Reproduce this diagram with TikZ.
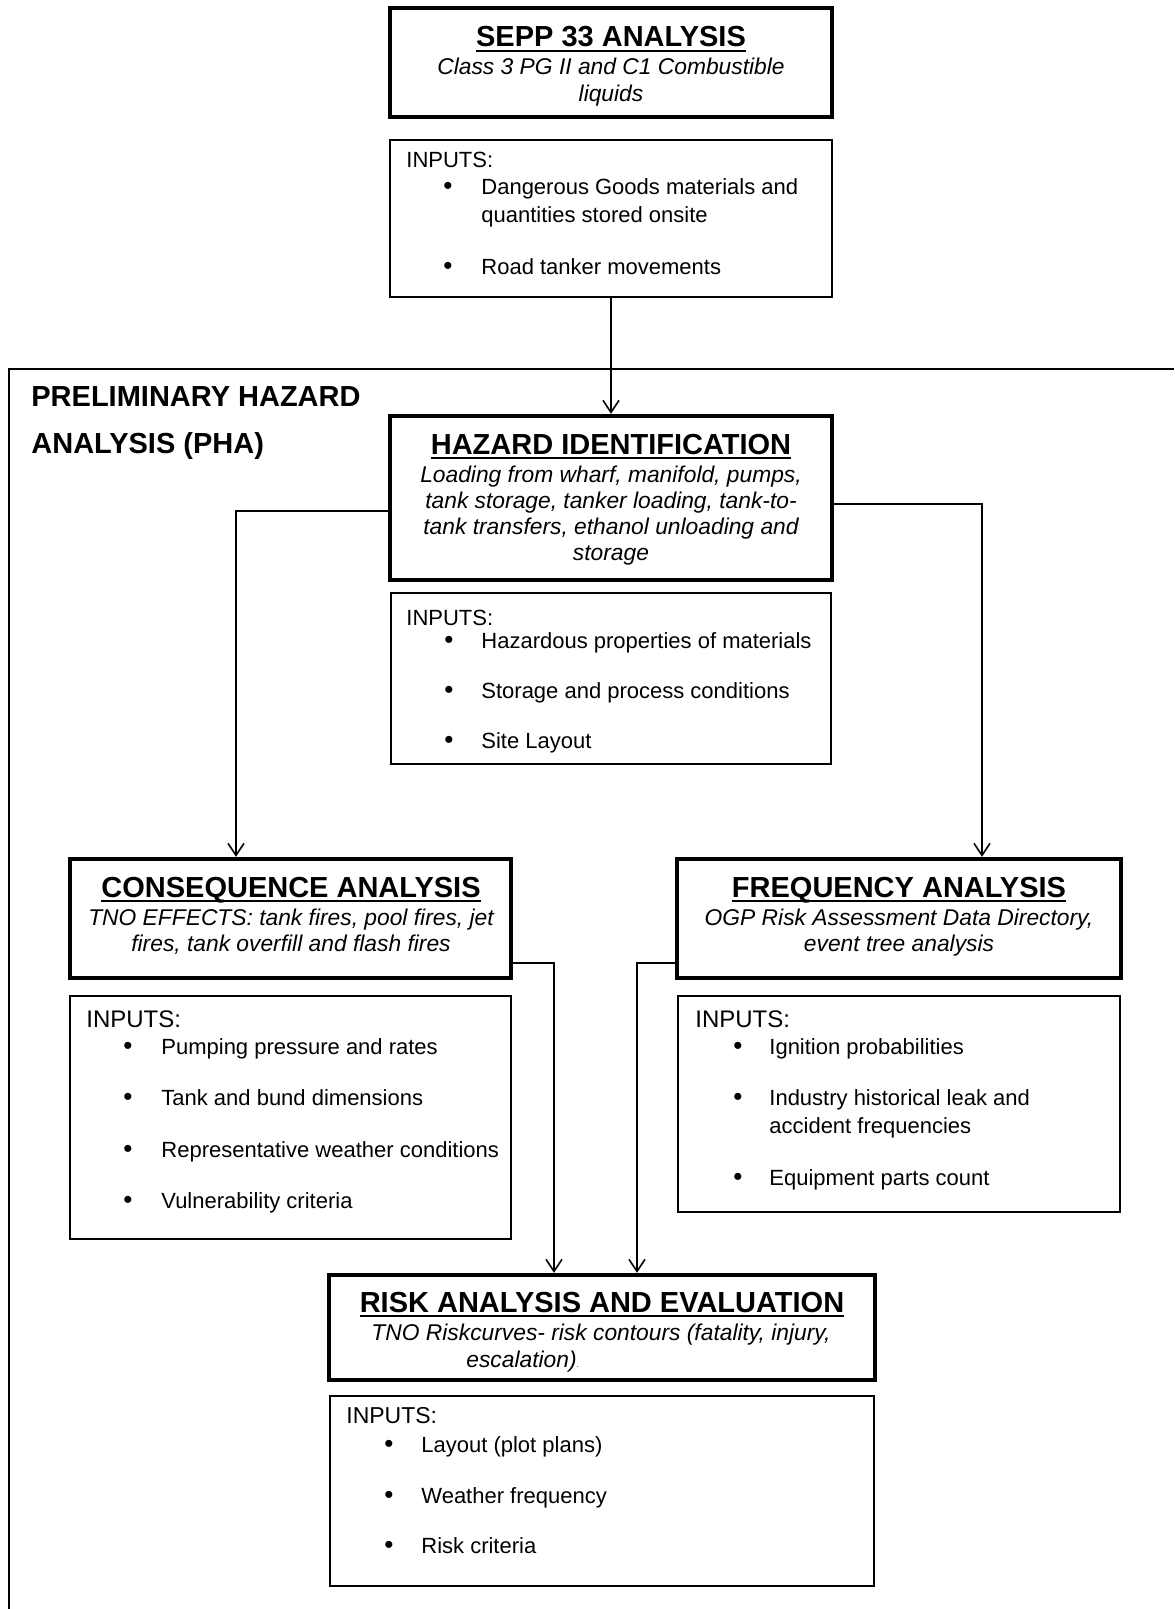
\documentclass[tikz,border=0pt]{standalone}
\usepackage{fontspec}
\setmainfont{Liberation Sans}
\usetikzlibrary{arrows.meta,calc}
\newcommand\ultitle[1]{\setbox0\hbox{#1}\rlap{\rule[-2.6pt]{\wd0}{1.1pt}}\box0}
\begin{document}
\begin{tikzpicture}[x=0.5pt,y=-0.5pt,
  thickbox/.style={draw, line width=2.2pt, inner sep=0pt},
  thinbox/.style={draw, line width=0.9pt, inner sep=0pt},
  ttl/.style={anchor=base, inner sep=0pt, font=\fontsize{14.5}{17}\selectfont\bfseries},
  itl/.style={anchor=base, inner sep=0pt, font=\fontsize{11.4}{13}\selectfont\itshape},
  inp/.style={anchor=base west, inner sep=0pt, font=\fontsize{11}{13}\selectfont},
  inpb/.style={anchor=base west, inner sep=0pt, font=\fontsize{12}{14}\selectfont},
  bul/.style={anchor=base, inner sep=0pt, font=\fontsize{13}{15}\selectfont},
  itm/.style={anchor=base west, inner sep=0pt, font=\fontsize{11}{13}\selectfont},
  conn/.style={line width=0.8pt, -{Straight Barb[length=6pt,width=8pt]}},
  phaline/.style={line width=1.3pt}]
\useasboundingbox (0,0) rectangle (1174,1609);

% PHA frame
\draw[phaline] (1174,369) -- (9,369) -- (9,1609);
\node[ttl, anchor=base west] (phaA) at (31,407) {PRELIMINARY HAZARD};
\node[ttl, anchor=base west] (phaB) at (31,453) {ANALYSIS (PHA)};

% boxes
\node[thickbox, minimum width=221pt, minimum height=54.5pt] (sepp) at (611,62.5) {};
\node[thinbox, minimum width=221pt, minimum height=78.5pt] (in1) at (611,218.5) {};
\node[thickbox, minimum width=221pt, minimum height=82pt] (hazid) at (611,498) {};
\node[thinbox, minimum width=220pt, minimum height=85.5pt] (in2) at (611,678.5) {};
\node[thickbox, minimum width=220.5pt, minimum height=59.5pt] (conseq) at (290.5,918.5) {};
\node[thinbox, minimum width=220.5pt, minimum height=121.5pt] (in3) at (290.5,1117.5) {};
\node[thickbox, minimum width=222pt, minimum height=59.5pt] (freq) at (899,918.5) {};
\node[thinbox, minimum width=221pt, minimum height=108pt] (in4) at (899,1104) {};
\node[thickbox, minimum width=273pt, minimum height=52.5pt] (risk) at (602,1327.5) {};
\node[thinbox, minimum width=272pt, minimum height=95pt] (in5) at (602,1491) {};

% SEPP
\node[ttl] (seppT) at (611,47) {\ultitle{SEPP 33 ANALYSIS}};
\node[itl] (seppA) at (611,75) {Class 3 PG II and C1 Combustible};
\node[itl] (seppB) at (611,102) {liquids};

% Inputs 1
\node[inp] (in1h) at (406,168) {INPUTS:};
\node[bul] (in1b1) at (448,195) {\textbullet};
\node[itm] (in1t1) at (481,195) {Dangerous Goods materials and};
\node[itm] (in1t1b) at (481,223) {quantities stored onsite};
\node[bul] (in1b2) at (448,275) {\textbullet};
\node[itm] (in1t2) at (481,275) {Road tanker movements};

% Hazard identification
\node[ttl] (hzT) at (611,454) {\ultitle{HAZARD IDENTIFICATION}};
\node[itl] (hzA) at (611,482) {Loading from wharf, manifold, pumps,};
\node[itl] (hzB) at (611,508) {tank storage, tanker loading, tank-to-};
\node[itl] (hzC) at (611,534) {tank transfers, ethanol unloading and};
\node[itl] (hzD) at (611,560) {storage};

% Inputs 2
\node[inp] (in2h) at (406,625) {INPUTS:};
\node[bul] (in2b1) at (449,648) {\textbullet};
\node[itm] (in2t1) at (481,648) {Hazardous properties of materials};
\node[bul] (in2b2) at (449,698) {\textbullet};
\node[itm] (in2t2) at (481,698) {Storage and process conditions};
\node[bul] (in2b3) at (449,748) {\textbullet};
\node[itm] (in2t3) at (481,748) {Site Layout};

% Consequence
\node[ttl] (coT) at (291,897) {\ultitle{CONSEQUENCE ANALYSIS}};
\node[itl] (coA) at (291,925) {TNO EFFECTS: tank fires, pool fires, jet};
\node[itl] (coB) at (291,951) {fires, tank overfill and flash fires};

% Inputs 3
\node[inpb] (in3h) at (86,1027) {INPUTS:};
\node[bul] (in3b1) at (128,1054) {\textbullet};
\node[itm] (in3t1) at (161,1054) {Pumping pressure and rates};
\node[bul] (in3b2) at (128,1105) {\textbullet};
\node[itm] (in3t2) at (161,1105) {Tank and bund dimensions};
\node[bul] (in3b3) at (128,1157) {\textbullet};
\node[itm] (in3t3) at (161,1157) {Representative weather conditions};
\node[bul] (in3b4) at (128,1208) {\textbullet};
\node[itm] (in3t4) at (161,1208) {Vulnerability criteria};

% Frequency
\node[ttl] (frT) at (899,897) {\ultitle{FREQUENCY ANALYSIS}};
\node[itl] (frA) at (899,925) {OGP Risk Assessment Data Directory,};
\node[itl] (frB) at (899,951) {event tree analysis};

% Inputs 4
\node[inpb] (in4h) at (695,1027) {INPUTS:};
\node[bul] (in4b1) at (738,1054) {\textbullet};
\node[itm] (in4t1) at (769,1054) {Ignition probabilities};
\node[bul] (in4b2) at (738,1105) {\textbullet};
\node[itm] (in4t2) at (769,1105) {Industry historical leak and};
\node[itm] (in4t2b) at (769,1133) {accident frequencies};
\node[bul] (in4b3) at (738,1185) {\textbullet};
\node[itm] (in4t3) at (769,1185) {Equipment parts count};

% Risk
\node[ttl] (rkT) at (602,1312) {\ultitle{RISK ANALYSIS AND EVALUATION}};
\node[itl] (rkA) at (601,1340) {TNO Riskcurves- risk contours (fatality, injury,};
\node[itl, anchor=base west] (rkB) at (466,1367) {escalation){\fontsize{4}{5}\selectfont.}};

% Inputs 5
\node[inp, font=\fontsize{11.5}{13}\selectfont] (in5h) at (346,1423) {INPUTS:};
\node[bul] (in5b1) at (389,1452) {\textbullet};
\node[itm] (in5t1) at (421,1452) {Layout (plot plans)};
\node[bul] (in5b2) at (389,1503) {\textbullet};
\node[itm] (in5t2) at (421,1503) {Weather frequency};
\node[bul] (in5b3) at (389,1553) {\textbullet};
\node[itm] (in5t3) at (421,1553) {Risk criteria};

% connectors
\draw[conn] (in1.south) -- (hazid.north);
\draw[conn] ($(hazid.west)+(0,13)$) -| ($(conseq.north)+(-54.5,0)$);
\draw[conn] ($(hazid.east)+(0,6)$) -| ($(freq.north)+(83,0)$);
\draw[conn] ($(conseq.east)+(0,44.5)$) -| ($(risk.north)+(-48,0)$);
\draw[conn] ($(freq.west)+(0,44.5)$) -| ($(risk.north)+(35,0)$);
\end{tikzpicture}
\end{document}
